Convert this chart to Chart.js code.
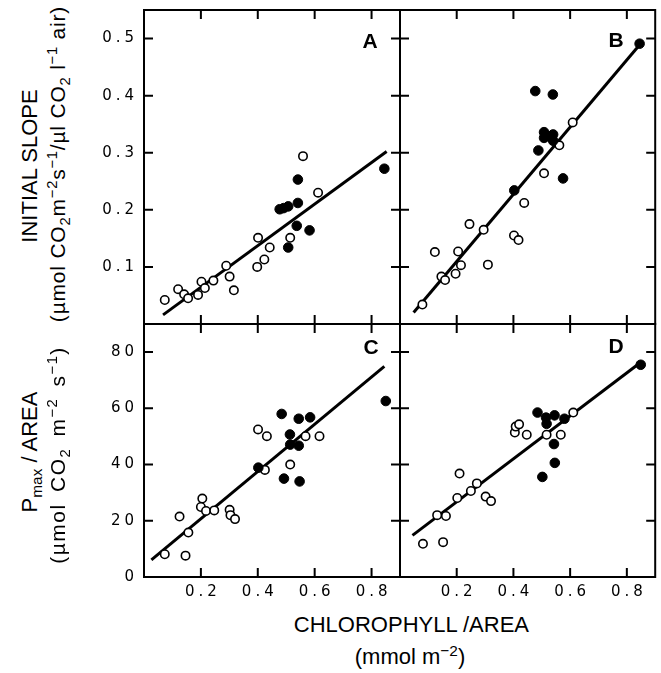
<!DOCTYPE html>
<html>
<head>
<meta charset="utf-8">
<script src="https://cdn.jsdelivr.net/npm/chart.js@4.4.1/dist/chart.umd.min.js"></script>
<style>
body { margin: 0; background: #fff; }
#wrap { position: relative; width: 661px; height: 673px; overflow: hidden; font-family: "Liberation Sans", Arial, sans-serif; color: #000; }
canvas { position: absolute; }
.t { position: absolute; white-space: nowrap; transform: translate(-50%, -50%); }
.v { transform: translate(-50%, -50%) rotate(-90deg); }
.r { transform: translate(-100%, -50%); }
sub, sup { font-size: 70%; line-height: 0; }
</style>
</head>
<body>
<div id="wrap">
  <canvas id="cA" width="330" height="334" style="left:80px;top:0px"></canvas>
  <canvas id="cB" width="271" height="334" style="left:390px;top:0px"></canvas>
  <canvas id="cC" width="330" height="296" style="left:80px;top:314px"></canvas>
  <canvas id="cD" width="271" height="296" style="left:390px;top:314px"></canvas>

  <div class="t v" style="left:30px;top:166px;font-size:22px">INITIAL SLOPE</div>
  <div class="t v" style="left:58px;top:164px;font-size:21px;letter-spacing:0.8px">(µmol CO<sub>2</sub>m<sup>−2</sup>s<sup>−1</sup>/µl CO<sub>2</sub> l<sup>−1</sup> air)</div>
  <div class="t v" style="left:30px;top:452px;font-size:22px">P<sub>max</sub> / AREA</div>
  <div class="t v" style="left:58px;top:455px;font-size:21px;letter-spacing:1.5px;word-spacing:4px">(µmol CO<sub>2</sub> m<sup>−2</sup> s<sup>−1</sup>)</div>
  <div class="t r" style="left:529px;top:625px;font-size:22px">CHLOROPHYLL /AREA</div>
  <div class="t" style="left:410px;top:657px;font-size:22px">(mmol m<sup>−2</sup>)</div>
</div>
<script>
// tick values
const xTicks = [0.2, 0.4, 0.6, 0.8];
const slopeTicks = [0.1, 0.2, 0.3, 0.4, 0.5];
const pmaxTicks = [0, 20, 40, 60, 80];

// A: initial slope, open circles / filled circles
const aOpenX = [0.073, 0.120, 0.141, 0.155, 0.190, 0.202, 0.214, 0.244, 0.289, 0.301, 0.316, 0.398, 0.401, 0.423, 0.442, 0.514, 0.559, 0.612];
const aOpenY = [0.042, 0.061, 0.052, 0.045, 0.051, 0.074, 0.063, 0.076, 0.102, 0.083, 0.059, 0.100, 0.151, 0.113, 0.134, 0.151, 0.294, 0.230];
const aFillX = [0.477, 0.491, 0.507, 0.541, 0.541, 0.537, 0.582, 0.507, 0.845];
const aFillY = [0.201, 0.203, 0.206, 0.212, 0.253, 0.172, 0.164, 0.134, 0.272];
const aLineX = [0.067, 0.853];
const aLineY = [0.016, 0.302];

// B
const bOpenX = [0.079, 0.123, 0.146, 0.159, 0.196, 0.205, 0.215, 0.245, 0.295, 0.310, 0.402, 0.418, 0.438, 0.508, 0.562, 0.609];
const bOpenY = [0.034, 0.126, 0.083, 0.077, 0.088, 0.127, 0.103, 0.175, 0.165, 0.104, 0.155, 0.147, 0.212, 0.264, 0.313, 0.353];
const bFillX = [0.403, 0.477, 0.539, 0.488, 0.508, 0.508, 0.524, 0.540, 0.540, 0.575, 0.845];
const bFillY = [0.234, 0.408, 0.402, 0.304, 0.336, 0.326, 0.329, 0.332, 0.321, 0.255, 0.491];
const bLineX = [0.048, 0.840];
const bLineY = [0.020, 0.486];

// C: Pmax / area
const cOpenX = [0.073, 0.125, 0.146, 0.156, 0.205, 0.200, 0.218, 0.247, 0.301, 0.304, 0.320, 0.401, 0.432, 0.425, 0.514, 0.568, 0.617];
const cOpenY = [8.1, 21.5, 7.6, 15.8, 27.9, 24.9, 23.5, 23.7, 23.9, 22.0, 20.6, 52.5, 50.1, 38.1, 40.0, 50.1, 50.1];
const cFillX = [0.402, 0.484, 0.544, 0.584, 0.513, 0.514, 0.544, 0.492, 0.547, 0.850];
const cFillY = [38.9, 58.0, 56.3, 56.8, 50.7, 47.1, 46.7, 35.0, 34.0, 62.6];
const cLineX = [0.026, 0.845];
const cLineY = [6.1, 74.9];

// D
const dOpenX = [0.081, 0.131, 0.152, 0.162, 0.202, 0.210, 0.250, 0.271, 0.302, 0.321, 0.405, 0.408, 0.420, 0.447, 0.517, 0.567, 0.611];
const dOpenY = [11.8, 22.0, 12.4, 21.7, 28.1, 36.8, 30.6, 33.3, 28.6, 27.0, 51.4, 53.5, 54.3, 50.6, 50.6, 50.6, 58.5];
const dFillX = [0.485, 0.515, 0.517, 0.545, 0.580, 0.543, 0.546, 0.502, 0.849];
const dFillY = [58.5, 56.7, 54.5, 57.5, 56.3, 47.3, 40.6, 35.6, 75.5];
const dLineX = [0.044, 0.840];
const dLineY = [14.8, 75.7];

const pts = (xs, ys) => xs.map((x, i) => ({ x: x, y: ys[i] }));

const tickFont = { family: '"DejaVu Sans", sans-serif', size: 15 };

// box border + inward ticks on all four sides + panel letter
const framePlugin = {
    id: 'frame',
    beforeDraw(chart) {
        chart.ctx.letterSpacing = '4px';
    },
    afterDraw(chart, args, opts) {
        const ctx = chart.ctx;
        const a = chart.chartArea;
        const x = chart.scales.x, y = chart.scales.y;
        const len = 9;
        ctx.save();
        ctx.letterSpacing = '0px';
        ctx.strokeStyle = '#000';
        ctx.lineWidth = 2;
        ctx.strokeRect(a.left, a.top, a.right - a.left, a.bottom - a.top);
        ctx.beginPath();
        x.ticks.forEach(t => {
            const p = x.getPixelForValue(t.value);
            ctx.moveTo(p, a.top); ctx.lineTo(p, a.top + len);
            ctx.moveTo(p, a.bottom); ctx.lineTo(p, a.bottom - len);
        });
        y.ticks.forEach(t => {
            const p = y.getPixelForValue(t.value);
            if (p <= a.top + 1 || p >= a.bottom - 1) return;
            ctx.moveTo(a.left, p); ctx.lineTo(a.left + len, p);
            ctx.moveTo(a.right, p); ctx.lineTo(a.right - len, p);
        });
        ctx.stroke();
        ctx.fillStyle = '#000';
        ctx.font = 'bold 21px "Liberation Sans", Arial, sans-serif';
        ctx.textAlign = 'center';
        ctx.textBaseline = 'middle';
        ctx.fillText(opts.letter, a.right - opts.dx, a.top + opts.dy);
        ctx.restore();
    }
};

function makePanel(id, letter, openPts, fillPts, linePts, yMax, yTicks, showX, showY, box) {
    new Chart(document.getElementById(id), {
        type: 'scatter',
        data: {
            datasets: [
                {
                    data: linePts,
                    showLine: true,
                    borderColor: '#000',
                    borderWidth: 3,
                    pointRadius: 0,
                    order: 3,
                    clip: false
                },
                {
                    data: openPts,
                    backgroundColor: '#fff',
                    borderColor: '#000',
                    borderWidth: 1.6,
                    pointRadius: 4.2,
                    order: 2,
                    clip: false
                },
                {
                    data: fillPts,
                    backgroundColor: '#000',
                    borderColor: '#000',
                    borderWidth: 1,
                    pointRadius: 4.8,
                    order: 1,
                    clip: false
                }
            ]
        },
        options: {
            responsive: false,
            animation: false,
            events: [],
            layout: { padding: { top: box.top, right: box.right, left: 0, bottom: 0 } },
            scales: {
                x: {
                    type: 'linear',
                    min: 0,
                    max: 0.9,
                    afterBuildTicks: s => { s.ticks = xTicks.map(v => ({ value: v })); },
                    afterFit: s => { s.height = box.xh; s.paddingLeft = 0; s.paddingRight = 0; },
                    grid: { display: false, drawTicks: false },
                    border: { display: false },
                    ticks: { display: showX, color: '#000', font: tickFont, padding: 6, labelOffset: 2, maxRotation: 0, callback: v => v.toFixed(1) }
                },
                y: {
                    type: 'linear',
                    min: 0,
                    max: yMax,
                    afterBuildTicks: s => { s.ticks = yTicks.map(v => ({ value: v })); },
                    afterFit: s => { s.width = box.yw; s.paddingTop = 0; s.paddingBottom = 0; },
                    grid: { display: false, drawTicks: false },
                    border: { display: false },
                    ticks: {
                        display: showY, color: '#000', font: tickFont, padding: 6,
                        callback: v => (yMax < 1 ? v.toFixed(1) : String(v))
                    }
                }
            },
            plugins: {
                legend: { display: false },
                tooltip: { enabled: false },
                frame: { letter: letter, dx: box.dx, dy: box.dy }
            }
        },
        plugins: [framePlugin]
    });
}

makePanel('cA', 'A', pts(aOpenX, aOpenY), pts(aFillX, aFillY), pts(aLineX, aLineY), 0.55, slopeTicks, false, true,
    { top: 10, right: 10, xh: 10, yw: 64, dx: 30, dy: 32 });
makePanel('cB', 'B', pts(bOpenX, bOpenY), pts(bFillX, bFillY), pts(bLineX, bLineY), 0.55, slopeTicks, false, false,
    { top: 10, right: 4, xh: 10, yw: 10, dx: 39, dy: 31 });
makePanel('cC', 'C', pts(cOpenX, cOpenY), pts(cFillX, cFillY), pts(cLineX, cLineY), 90, pmaxTicks, true, true,
    { top: 10, right: 10, xh: 33, yw: 64, dx: 29, dy: 24 });
makePanel('cD', 'D', pts(dOpenX, dOpenY), pts(dFillX, dFillY), pts(dLineX, dLineY), 90, pmaxTicks, true, false,
    { top: 10, right: 4, xh: 33, yw: 10, dx: 39, dy: 23 });
</script>
</body>
</html>
